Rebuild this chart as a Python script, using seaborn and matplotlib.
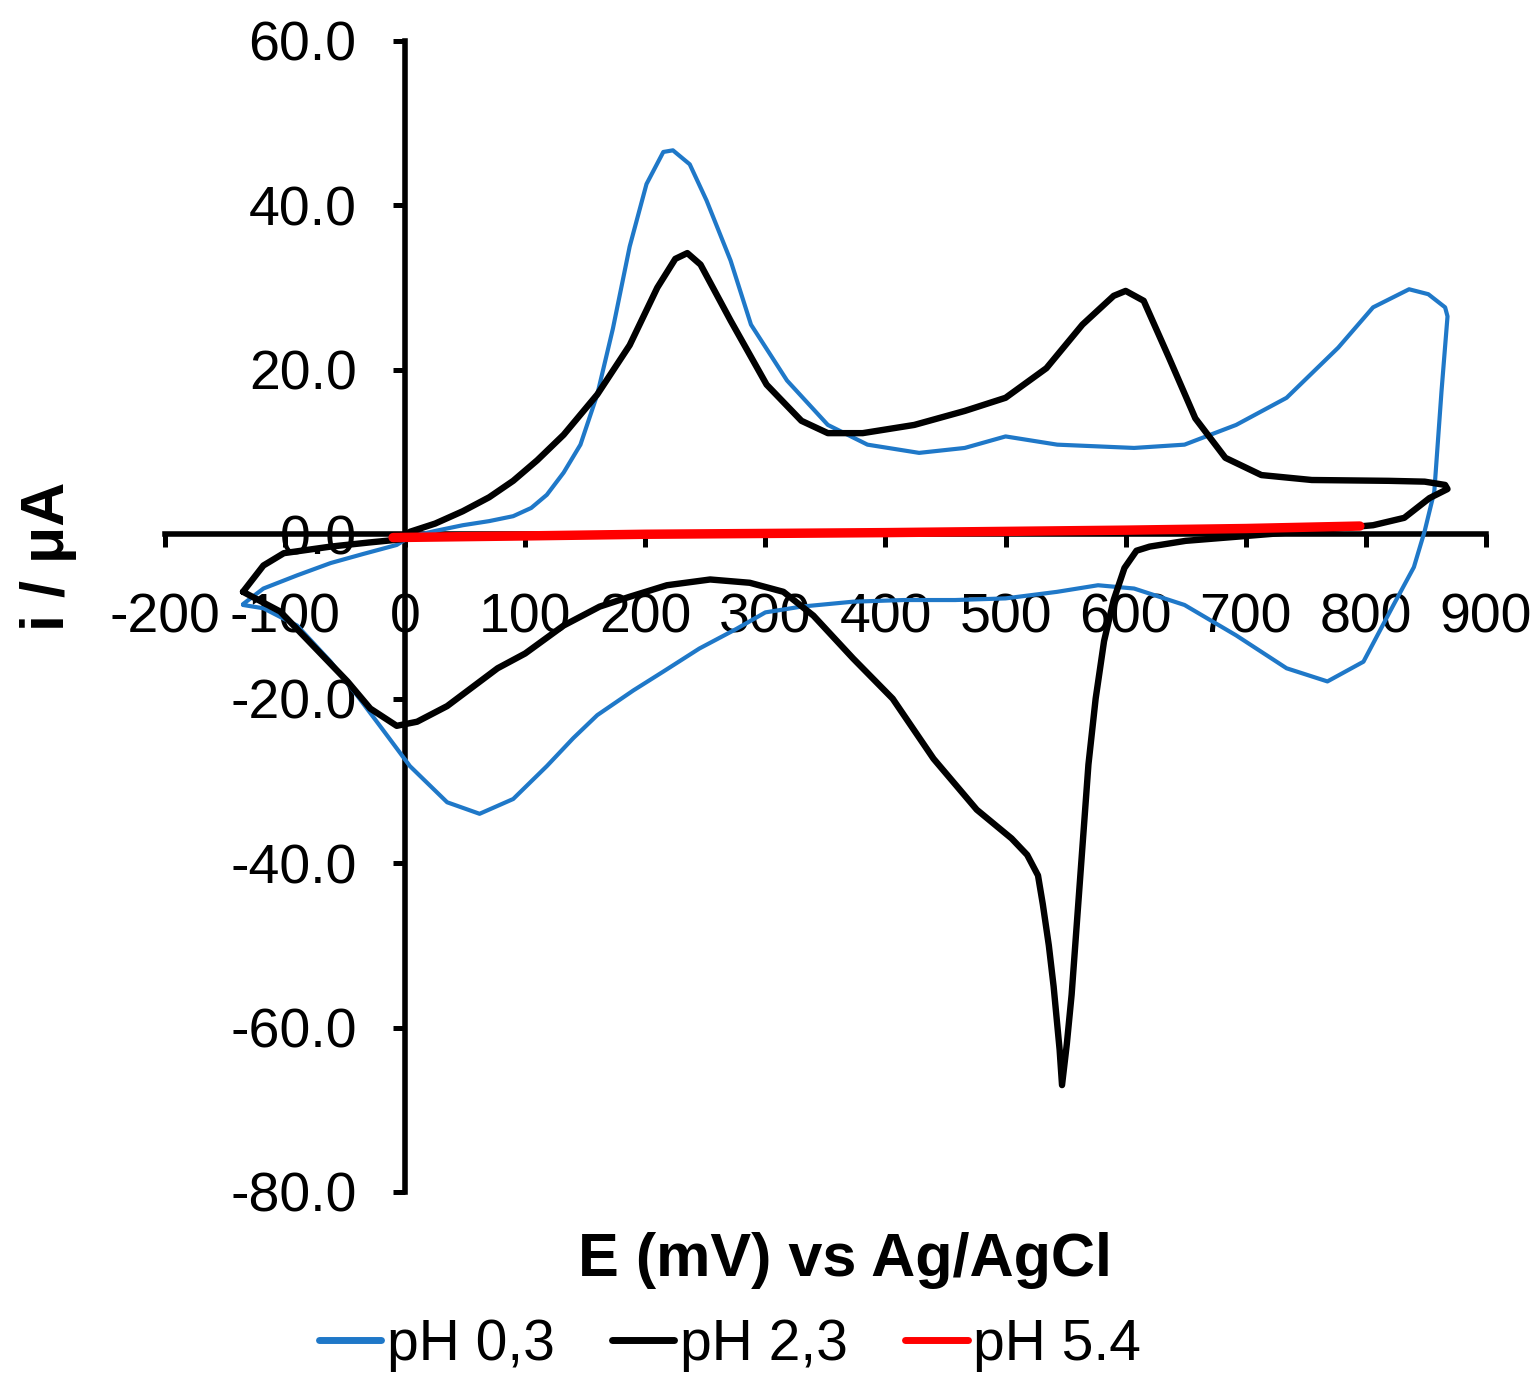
import numpy as np
import pandas as pd
import matplotlib
matplotlib.use("Agg")
import matplotlib.pyplot as plt
import seaborn as sns

# ---------------- data ----------------
blue_E = [-135, -118, -90, -62, -35, -7, 4, 25, 48, 70, 90, 105, 118, 132, 146, 160, 173, 187,
          201, 215, 223, 237, 251, 271, 288, 318, 352, 385, 428, 466, 500, 543, 607, 649, 692,
          734, 777, 806, 836, 852, 866, 868, 863, 857, 849, 840, 823, 798, 768, 734, 692, 649,
          607, 577, 543, 500, 458, 415, 373, 330, 300, 276, 245, 215, 190, 160, 140, 118, 90,
          62, 35, 4, -21, -40, -62, -90, -118, -135]
blue_i = [-8.5, -6.6, -5.0, -3.5, -2.4, -1.3, -0.3, 0.4, 1.1, 1.6, 2.2, 3.2, 4.8, 7.5, 10.9, 17.0,
          25.0, 35.0, 42.6, 46.5, 46.7, 45.0, 40.6, 33.3, 25.5, 18.7, 13.3, 10.9, 9.9, 10.5, 11.9,
          10.9, 10.5, 10.9, 13.3, 16.6, 22.7, 27.6, 29.8, 29.2, 27.6, 26.5, 17.4, 5.2, 0.4, -4.0,
          -8.6, -15.5, -17.9, -16.3, -12.3, -8.6, -6.6, -6.2, -7.0, -7.8, -8.0, -8.0, -8.2, -8.8,
          -9.5, -11.5, -13.9, -16.7, -19.0, -22.0, -24.8, -28.2, -32.2, -34.0, -32.6, -28.2,
          -23.3, -19.6, -15.5, -11.1, -9.0, -8.6]

black_E = [-135, -118, -101, -62, -30, -2, 4, 25, 48, 70, 90, 110, 132, 160, 187, 210, 225, 235,
           246, 271, 301, 330, 352, 381, 424, 466, 500, 534, 564, 590, 600, 615, 636, 658, 683,
           713, 755, 819, 849, 866, 868, 853, 832, 806, 760, 701, 650, 620, 609, 599, 590, 582,
           575, 569, 565, 560, 555, 551, 547, 545, 540, 536, 531, 527, 518, 505, 476, 440, 406,
           373, 340, 315, 287, 254, 218, 187, 162, 132, 100, 77, 35, 10, -7, -29, -48, -77,
           -104, -135]
black_i = [-7.0, -3.8, -2.3, -1.5, -1.0, -0.6, 0.3, 1.3, 2.8, 4.5, 6.5, 9.0, 12.1, 17.0, 23.0,
           30.0, 33.5, 34.2, 32.8, 26.0, 18.2, 13.8, 12.3, 12.3, 13.3, 15.0, 16.6, 20.2, 25.5,
           29.0, 29.6, 28.4, 21.5, 14.1, 9.3, 7.2, 6.6, 6.5, 6.4, 6.0, 5.5, 4.4, 2.0, 1.1, 0.5,
           -0.2, -0.8, -1.5, -2.0, -4.1, -8.0, -13.0, -20.0, -28.0, -36.0, -46.0, -56.0, -62.0,
           -67.0, -62.7, -55.0, -50.0, -45.0, -41.5, -39.0, -37.0, -33.5, -27.3, -20.0, -15.1,
           -9.9, -7.0, -5.9, -5.5, -6.2, -7.6, -8.8, -11.1, -14.5, -16.3, -20.9, -22.8, -23.3,
           -21.2, -17.9, -13.5, -9.4, -7.0]

red_E = [-10, 100, 200, 300, 400, 500, 600, 700, 795]
red_i = [-0.4, -0.2, 0.0, 0.1, 0.2, 0.35, 0.5, 0.7, 1.0]

series_labels = ["pH 0,3", "pH 2,3", "pH 5.4"]
series_colors = ["#1f78c8", "#000000", "#ff0000"]
series_widths = [3.0, 4.6, 6.8]

x_ticks = [-200, -100, 0, 100, 200, 300, 400, 500, 600, 700, 800, 900]
y_ticks = [-80, -60, -40, -20, 0, 20, 40, 60]

# ---------------- figure ----------------
sns.set_style("white")
plt.rcParams["font.family"] = ["Liberation Sans", "DejaVu Sans"]
plt.rcParams["text.color"] = "black"
plt.rcParams["axes.labelcolor"] = "black"

fig = plt.figure(figsize=(15.4, 13.75), dpi=100)
ax = fig.add_axes([0.1071, 0.1331, 0.8578, 0.8371])

data = [(blue_E, blue_i), (black_E, black_i), (red_E, red_i)]
for (E, I), lab, col, lw in zip(data, series_labels, series_colors, series_widths):
    df = pd.DataFrame({"E": E, "i": I})
    sns.lineplot(data=df, x="E", y="i", sort=False, estimator=None, color=col,
                 linewidth=lw, label=lab, ax=ax, solid_joinstyle="round",
                 solid_capstyle="round")

ax.set_xlim(-200, 900)
ax.set_ylim(-80, 60)
ax.set_xticks(x_ticks)
ax.set_yticks(y_ticks)
ax.set_xticklabels([f"{v:d}" for v in x_ticks])
ax.set_yticklabels([f"{v:.1f}" for v in y_ticks])

for s in ["top", "right"]:
    ax.spines[s].set_visible(False)
ax.spines["left"].set_position(("data", 0))
ax.spines["bottom"].set_position(("data", 0))
for s in ["left", "bottom"]:
    ax.spines[s].set_linewidth(4.0)
    ax.spines[s].set_color("black")
    ax.spines[s].set_zorder(1)

ax.tick_params(axis="both", which="major", direction="out", length=9, width=3.6,
               colors="black", labelcolor="black", labelsize=40,
               bottom=True, left=True, top=False, right=False)
ax.tick_params(axis="x", pad=33)
ax.tick_params(axis="y", pad=26)

ax.set_xlabel("E (mV) vs Ag/AgCl", fontsize=44, fontweight="bold", va="center",
              color="black")
ax.xaxis.set_label_coords(0.5148, -0.0591)
ax.set_ylabel("i / \u03bcA", fontsize=44, fontweight="bold", va="center", ha="center",
              color="black")
ax.yaxis.set_label_coords(-0.0878, 0.5526)

ax.legend_.remove()
handles, labels = ax.get_legend_handles_labels()
leg = fig.legend(handles, labels, loc="center", bbox_to_anchor=(0.474, 0.0218), ncol=3,
                 frameon=False, fontsize=41, handlelength=1.1, handletextpad=0.1,
                 columnspacing=1.0, borderaxespad=0, borderpad=0)
for t in leg.get_texts():
    t.set_color("black")
for h in leg.get_lines():
    h.set_linewidth(5)

fig.savefig("out.png", dpi=100, facecolor="white")
